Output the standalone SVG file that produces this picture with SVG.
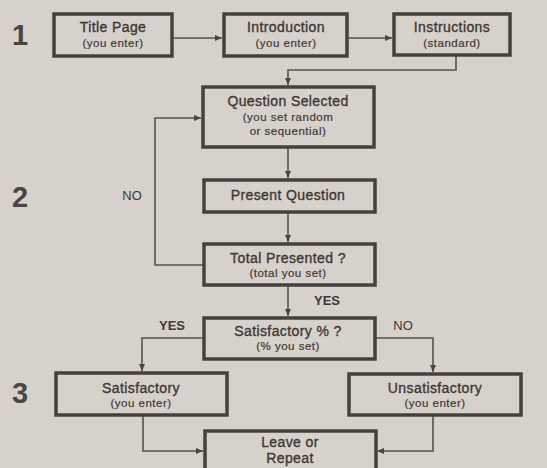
<svg xmlns="http://www.w3.org/2000/svg" width="547" height="468" viewBox="0 0 547 468">
<defs>
<marker id="arr" markerUnits="userSpaceOnUse" markerWidth="8" markerHeight="8" refX="7" refY="4" orient="auto">
<path d="M0,1 L7,4 L0,7 Z" fill="#4a4542"/>
</marker>
<style>
.box{fill:none;stroke:#46413e;stroke-width:3.5}
.con{fill:none;stroke:#57524e;stroke-width:1.6}
.t{font-family:"Liberation Sans",Arial,sans-serif;font-size:14px;fill:#3d3835;stroke:#3d3835;stroke-width:0.35px;text-anchor:middle;letter-spacing:0.4px}
.s{font-family:"Liberation Sans",Arial,sans-serif;font-size:11.5px;fill:#3d3835;stroke:#3d3835;stroke-width:0.2px;text-anchor:middle;letter-spacing:0.5px}
.lbl{font-family:"Liberation Sans",Arial,sans-serif;font-size:13px;fill:#3d3835;text-anchor:middle}
.num{font-family:"Liberation Sans",Arial,sans-serif;font-size:29px;font-weight:bold;fill:#4a4542;text-anchor:middle}
</style>
</defs>
<rect width="547" height="468" fill="#d7d1cb"/>
<text class="num" x="20" y="45">1</text>
<text class="num" x="20" y="207">2</text>
<text class="num" x="20" y="403">3</text>
<g id="connectors">
<path class="con" d="M172,38 H222" marker-end="url(#arr)"/>
<path class="con" d="M347,38 H392" marker-end="url(#arr)"/>
<path class="con" d="M456,55 V70 H288 V85" marker-end="url(#arr)"/>
<path class="con" d="M288,147 V178" marker-end="url(#arr)"/>
<path class="con" d="M288,212 V242" marker-end="url(#arr)"/>
<path class="con" d="M203,265 H155 V118 H201" marker-end="url(#arr)"/>
<path class="con" d="M288,285 V316" marker-end="url(#arr)"/>
<path class="con" d="M203,338 H142 V371" marker-end="url(#arr)"/>
<path class="con" d="M376,338 H433 V372" marker-end="url(#arr)"/>
<path class="con" d="M143,415 V451 H203" marker-end="url(#arr)"/>
<path class="con" d="M433,415 V451 H377" marker-end="url(#arr)"/>
<text class="lbl" x="132" y="200">NO</text>
<text class="lbl" x="327" y="305" font-weight="bold">YES</text>
<text class="lbl" x="172" y="330" font-weight="bold">YES</text>
<text class="lbl" x="403" y="330">NO</text>
</g>
<g id="title">
<rect class="box" x="54" y="14" width="118" height="42"/>
<text class="t" x="113" y="32">Title Page</text>
<text class="s" x="113" y="47">(you enter)</text>
</g>
<g id="intro">
<rect class="box" x="224" y="14" width="123" height="42"/>
<text class="t" x="286" y="32">Introduction</text>
<text class="s" x="286" y="47">(you enter)</text>
</g>
<g id="instructions">
<rect class="box" x="394" y="14" width="116" height="41"/>
<text class="t" x="452" y="32">Instructions</text>
<text class="s" x="452" y="47">(standard)</text>
</g>
<g id="qselected">
<rect class="box" x="203" y="87" width="171" height="60"/>
<text class="t" x="288" y="106">Question Selected</text>
<text class="s" x="288" y="121">(you set random</text>
<text class="s" x="288" y="135">or sequential)</text>
</g>
<g id="present">
<rect class="box" x="204" y="180" width="171" height="32"/>
<text class="t" x="288" y="200">Present Question</text>
</g>
<g id="total">
<rect class="box" x="204" y="244" width="171" height="41"/>
<text class="t" x="288" y="263">Total Presented ?</text>
<text class="s" x="288" y="277">(total you set)</text>
</g>
<g id="satpct">
<rect class="box" x="204" y="318" width="171" height="41"/>
<text class="t" x="288" y="336">Satisfactory % ?</text>
<text class="s" x="288" y="350">(% you set)</text>
</g>
<g id="satisfactory">
<rect class="box" x="56" y="373" width="171" height="42"/>
<text class="t" x="141" y="393">Satisfactory</text>
<text class="s" x="141" y="407">(you enter)</text>
</g>
<g id="unsatisfactory">
<rect class="box" x="349" y="374" width="172" height="41"/>
<text class="t" x="435" y="393">Unsatisfactory</text>
<text class="s" x="435" y="407">(you enter)</text>
</g>
<g id="leave">
<rect class="box" x="205" y="431" width="171" height="50"/>
<text class="t" x="290" y="447" font-size="13.5">Leave or</text>
<text class="t" x="290" y="463" font-size="13.5">Repeat</text>
</g>
</svg>
